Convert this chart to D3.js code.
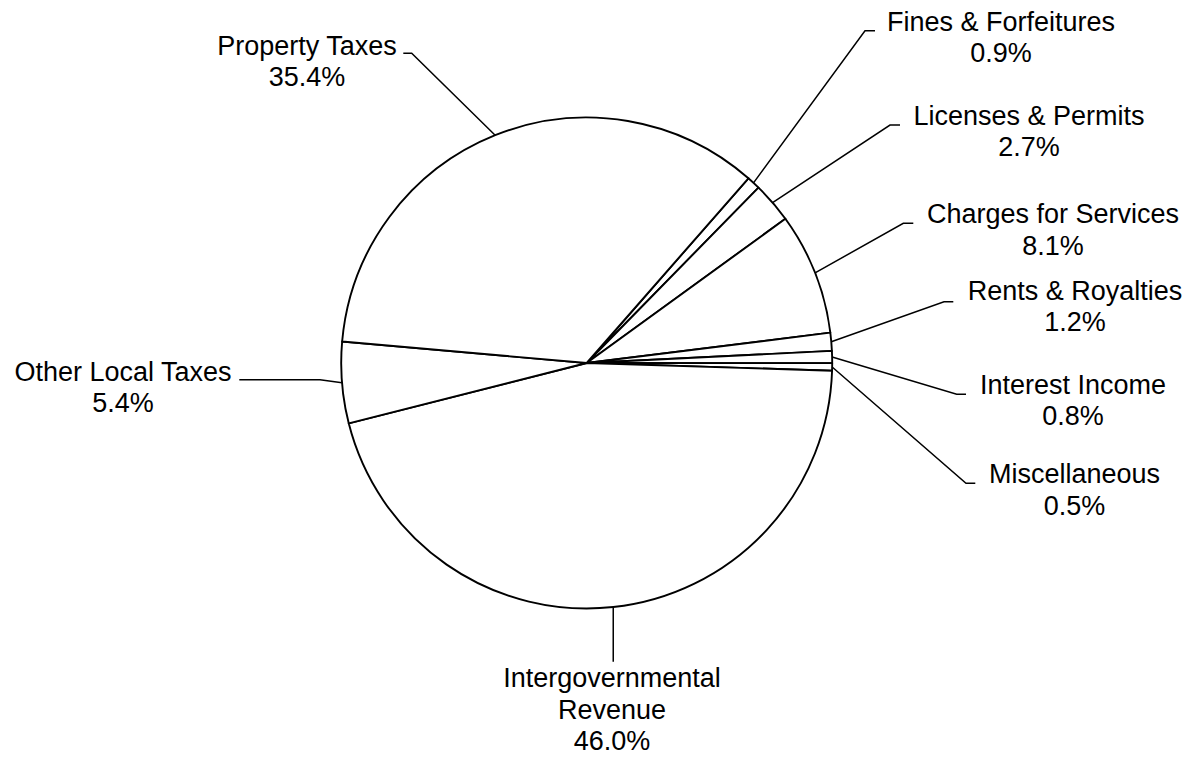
<!DOCTYPE html>
<html>
<head>
<meta charset="utf-8">
<script src="https://cdn.jsdelivr.net/npm/d3@7"></script>
<style>
  html, body { margin: 0; padding: 0; background: #ffffff; }
  svg { display: block; }
  text { font-family: "Liberation Sans", Arial, sans-serif; fill: #000; }
</style>
</head>
<body>
<svg id="chart" width="1192" height="757"></svg>
<script>
// ---- data ----
const categories = [
  "Fines & Forfeitures",
  "Licenses & Permits",
  "Charges for Services",
  "Rents & Royalties",
  "Interest Income",
  "Miscellaneous",
  "Intergovernmental\nRevenue",
  "Other Local Taxes",
  "Property Taxes"
];
const shares = [0.9, 2.7, 8.1, 1.2, 0.8, 0.5, 46.0, 5.4, 35.4];

// ---- label layout (text centre/baseline, leader elbow, leader end) ----
const labelLayout = [
  { tx: 1001, ty: 30.7,  ex: 865,   ey: 30.7,  hx: 875 },
  { tx: 1029, ty: 124.5, ex: 890,   ey: 125,   hx: 900 },
  { tx: 1053, ty: 223.3, ex: 903.3, ey: 223.3, hx: 913.3 },
  { tx: 1075, ty: 300,   ex: 944,   ey: 301.7, hx: 953.3 },
  { tx: 1073, ty: 394,   ex: 956.7, ey: 394.3, hx: 966 },
  { tx: 1074.5, ty: 483.3, ex: 966, ey: 483.3, hx: 975.3 },
  { tx: 612,  ty: 687.3, ex: null,  ey: 661.7, hx: null },
  { tx: 123,  ty: 380.5, ex: 320,   ey: 379.8, hx: 239.3 },
  { tx: 307,  ty: 55,    ex: 411.7, ey: 53.3,  hx: 403.3 }
];

const cx = 586.7, cy = 363, r = 245.5;
const startDeg = 41.2;
const lineGap = 31.3;
const fontSize = 27;

const svg = d3.select("#chart");
const g = svg.append("g").attr("transform", `translate(${cx},${cy})`);

const pie = d3.pie()
  .sort(null)
  .value(d => d)
  .startAngle(startDeg * Math.PI / 180)
  .endAngle(startDeg * Math.PI / 180 + 2 * Math.PI);

const arcs = pie(shares);
const arc = d3.arc().innerRadius(0).outerRadius(r);

g.selectAll("path.slice")
  .data(arcs)
  .join("path")
  .attr("class", "slice")
  .attr("d", arc)
  .attr("fill", "#ffffff")
  .attr("stroke", "#000")
  .attr("stroke-width", 1.9)
  .attr("stroke-linejoin", "round");

// leader lines
const lines = svg.append("g");
arcs.forEach((a, i) => {
  const mid = (a.startAngle + a.endAngle) / 2;
  const px = cx + r * Math.sin(mid);
  const py = cy - r * Math.cos(mid);
  const L = labelLayout[i];
  const ex = L.ex === null ? px : L.ex;
  const hx = L.hx === null ? ex : L.hx;
  const path = d3.path();
  path.moveTo(px, py);
  path.lineTo(ex, L.ey);
  path.lineTo(hx, L.ey);
  lines.append("path")
    .attr("d", path.toString())
    .attr("fill", "none")
    .attr("stroke", "#000")
    .attr("stroke-width", 1.5);
});

// labels
const labels = svg.append("g");
arcs.forEach((a, i) => {
  const L = labelLayout[i];
  const parts = categories[i].split("\n").concat([d3.format(".1f")(shares[i]) + "%"]);
  const t = labels.append("text")
    .attr("x", L.tx)
    .attr("y", L.ty)
    .attr("text-anchor", "middle")
    .attr("font-size", fontSize);
  parts.forEach((p, k) => {
    t.append("tspan")
      .attr("x", L.tx)
      .attr("y", L.ty + k * lineGap)
      .text(p);
  });
});
</script>
</body>
</html>
